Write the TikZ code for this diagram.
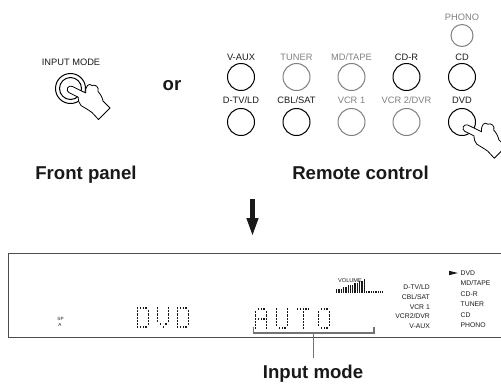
\documentclass[tikz,border=0pt]{standalone}
\usepackage{fontspec}
\setmainfont{Liberation Sans}
\definecolor{dim}{gray}{0.5}
\definecolor{ink}{gray}{0.1}
\definecolor{frame}{gray}{0.3}
\definecolor{lead}{gray}{0.45}

% outline of a pointing hand, fingertip at (67.5,88)
\newcommand\handoutline{%
  (85.7,93) .. controls (85,86) and (89,82.5) .. (92,85.5)
  .. controls (95,84) and (99.5,87) .. (98,91.5)
  .. controls (100.5,94) and (102.5,98) .. (103,101)
  -- (110,108) -- (98.5,119.5) -- (92,112.5)
  .. controls (88,109.5) and (84,107.5) .. (81,105.5)
  .. controls (79,103.5) and (78,100) .. (78.1,97.1)
  -- (69.11,92.69) .. controls (67.37,91.84) and (66.65,89.74) .. (67.5,88)
  .. controls (68.35,86.26) and (70.45,85.54) .. (72.19,86.39) -- cycle}

% one 5x7 dot-matrix character: #1,#2 = top left, #3 = column/row list
\newcommand\dmchar[3]{%
  \foreach \c/\r in {#3}
    \fill[ink] ({#1+\c*2.75},{#2+\r*3.2}) rectangle ++(1.35,2.2);}

\begin{document}
\begin{tikzpicture}[x=1pt,y=-1pt,
  lbl/.style={font=\fontsize{9.3}{10}\selectfont, inner sep=0pt,
              text height=6.7pt, text depth=0pt},
  btn/.style={circle, draw, line width=1pt, minimum size=27pt, inner sep=0pt},
  onlbl/.style={lbl, text=ink},
  offlbl/.style={lbl, text=dim},
  offbtn/.style={btn, draw=dim},
  heading/.style={font=\fontsize{18.6}{22}\selectfont\bfseries, inner sep=0pt,
                  anchor=base, text=ink},
  tiny/.style={font=\fontsize{6.8}{8}\selectfont, inner sep=0pt,
               text height=5pt, text depth=0pt, text=ink},
  hand/.style={draw=black, fill=white, line width=0.8pt, line join=round},
  panel/.style={draw=frame, line width=1pt},
  bracket/.style={draw=lead, line width=1.6pt}]
\useasboundingbox (0,0) rectangle (501,384);

% ---- front panel button ----
\node[lbl, text=ink] (inputlbl) at (71,62.5) {INPUT MODE};
\node[circle, draw, line width=1pt, minimum size=30pt, inner sep=0pt] (fpout) at (70.5,88.5) {};
\node[circle, draw, line width=1pt, minimum size=22pt, inner sep=0pt] (fpin) at (70.5,88.5) {};
\path[hand] \handoutline;

\node[heading] (or) at (172,90) {or};

% ---- remote control keys ----
\node[offlbl] (lphono) at (462,17) {PHONO};
\node[offbtn, minimum size=22pt] (bphono) at (462,35.5) {};

\node[onlbl]  (lvaux)  at (241,57) {V-AUX};
\node[offlbl] (ltuner) at (296.5,57) {TUNER};
\node[offlbl] (lmd)    at (351.5,57) {MD/TAPE};
\node[onlbl]  (lcdr)   at (406.5,57) {CD-R};
\node[onlbl]  (lcd)    at (462,57) {CD};
\node[btn]    (bvaux)  at (241,77) {};
\node[offbtn] (btuner) at (296.5,77) {};
\node[offbtn] (bmd)    at (351.5,77) {};
\node[btn]    (bcdr)   at (406.5,77) {};
\node[btn]    (bcd)    at (462,77) {};

\node[onlbl]  (ldtv)   at (241,100.5) {D-TV/LD};
\node[onlbl]  (lcbl)   at (296.5,100.5) {CBL/SAT};
\node[offlbl] (lvcr1)  at (351.5,100.5) {VCR 1};
\node[offlbl] (lvcr2)  at (406.5,100.5) {VCR 2/DVR};
\node[onlbl]  (ldvd)   at (462,100.5) {DVD};
\node[btn]    (bdtv)   at (241,122) {};
\node[btn]    (bcbl)   at (296.5,122) {};
\node[offbtn] (bvcr1)  at (351.5,122) {};
\node[offbtn] (bvcr2)  at (406.5,122) {};
\node[btn]    (bdvd)   at (462,122) {};

\begin{scope}[shift={(463.3,126.7)}, shift={(-67.5,-88)}]
  \path[hand] \handoutline;
\end{scope}

\node[heading] (front)  at (86,179) {Front panel};
\node[heading] (remote) at (360.5,179) {Remote control};

% ---- down arrow ----
\fill[ink] (250,199) rectangle (255,219);
\fill[ink] (246.3,218) -- (258.7,218) -- (252.5,235) -- cycle;

% ---- display window ----
\draw[panel] (502,253) -- (8,253) -- (8,337) -- (502,337);

\node[font=\fontsize{4.6}{5}\selectfont, inner sep=0pt, text=ink] (sp) at (60.5,319) {SP};
\node[font=\fontsize{4.6}{5}\selectfont, inner sep=0pt, text=ink] (spa) at (60,325) {A};

% DVD
\dmchar{137}{307}{0/0,1/0,2/0,3/0,0/1,4/1,0/2,4/2,0/3,4/3,0/4,4/4,0/5,4/5,0/6,1/6,2/6,3/6}
\dmchar{157}{307}{0/0,4/0,0/1,4/1,0/2,4/2,0/3,4/3,0/4,4/4,1/5,3/5,2/6}
\dmchar{177}{307}{0/0,1/0,2/0,3/0,0/1,4/1,0/2,4/2,0/3,4/3,0/4,4/4,0/5,4/5,0/6,1/6,2/6,3/6}
% AUTO
\dmchar{255}{308}{1/0,2/0,3/0,0/1,4/1,0/2,4/2,0/3,1/3,2/3,3/3,4/3,0/4,4/4,0/5,4/5,0/6,4/6}
\dmchar{276}{308}{0/0,4/0,0/1,4/1,0/2,4/2,0/3,4/3,0/4,4/4,0/5,4/5,1/6,2/6,3/6}
\dmchar{297}{308}{0/0,1/0,2/0,3/0,4/0,2/1,2/2,2/3,2/4,2/5,2/6}
\dmchar{318}{308}{1/0,2/0,3/0,0/1,4/1,0/2,4/2,0/3,4/3,0/4,4/4,0/5,4/5,1/6,2/6,3/6}

% volume meter
\node[font=\fontsize{5.6}{6}\selectfont, inner sep=0pt, text=ink] (vol) at (350,281) {VOLUME};
\foreach \i in {0,...,12} {
  \pgfmathtruncatemacro\n{1+\i*0.42}
  \foreach \j in {0,...,\n}
    \fill[ink] ({336+\i*2.3},{292.5-\j*2}) rectangle ++(1.3,-1.3);
}
\foreach \k in {0,...,7}
  \fill[ink] ({366+\k*2.3},292.5) rectangle ++(1.3,-1.3);

% source lists
\node[tiny, anchor=east] (d1) at (430,287)   {D-TV/LD};
\node[tiny, anchor=east] (d2) at (430,296.8) {CBL/SAT};
\node[tiny, anchor=east] (d3) at (430,306.5) {VCR 1};
\node[tiny, anchor=east] (d4) at (430,316.3) {VCR2/DVR};
\node[tiny, anchor=east] (d5) at (430,326)   {V-AUX};

\fill[ink] (449,270.8) -- (458,273) -- (449,275.2) -- cycle;
\node[tiny, anchor=west] (e1) at (460.5,273)   {DVD};
\node[tiny, anchor=west] (e2) at (460.5,283.4) {MD/TAPE};
\node[tiny, anchor=west] (e3) at (460.5,293.8) {CD-R};
\node[tiny, anchor=west] (e4) at (460.5,304.2) {TUNER};
\node[tiny, anchor=west] (e5) at (460.5,314.6) {CD};
\node[tiny, anchor=west] (e6) at (460.5,325)   {PHONO};

% input mode pointer
\draw[bracket] (253.5,327) |- (374,333) -- (374,327);
\coordinate (bmid) at (313.5,333);
\node[heading] (imode) at (313,378) {Input mode};
\draw[bracket] (bmid) -- (bmid |- 0,358);
\end{tikzpicture}
\end{document}
